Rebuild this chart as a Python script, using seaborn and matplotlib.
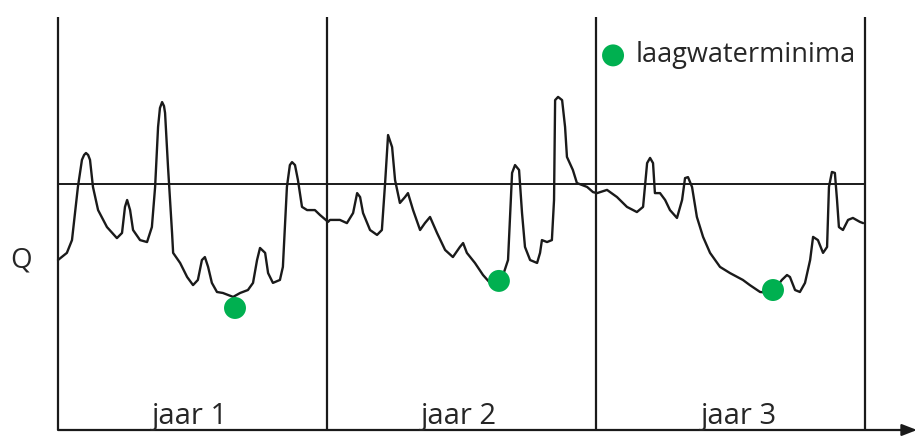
import numpy as np
import matplotlib.pyplot as plt
import seaborn as sns

# time in years, discharge as % of the mean (mean line = 100)
t = [0.000, 0.033, 0.052, 0.074, 0.089, 0.097, 0.104, 0.112, 0.119, 0.130,
     0.149, 0.182, 0.219, 0.238, 0.249, 0.257, 0.268, 0.279, 0.305, 0.331,
     0.349, 0.361, 0.372, 0.379, 0.387, 0.394, 0.398, 0.409, 0.424, 0.428,
     0.454, 0.480, 0.502, 0.520, 0.535, 0.546, 0.558, 0.572, 0.591, 0.613,
     0.651, 0.677, 0.706, 0.725, 0.740, 0.751, 0.770, 0.781, 0.799, 0.825,
     0.836, 0.851, 0.862, 0.870, 0.881, 0.892, 0.907, 0.926, 0.955, 0.974,
     1.004,
     1.011, 1.048, 1.074, 1.097, 1.112, 1.123, 1.134, 1.160, 1.186, 1.204,
     1.216, 1.227, 1.242, 1.253, 1.271, 1.290, 1.301, 1.320, 1.346, 1.364,
     1.383, 1.409, 1.439, 1.468, 1.494, 1.506, 1.520, 1.550, 1.580, 1.606,
     1.628, 1.651, 1.673, 1.688, 1.699, 1.714, 1.725, 1.736, 1.755, 1.781,
     1.792, 1.799, 1.818, 1.836, 1.844, 1.848, 1.859, 1.874, 1.885, 1.892,
     1.914, 1.929, 1.967, 1.989, 2.004,
     2.041, 2.078, 2.115, 2.152, 2.175, 2.190, 2.201, 2.212, 2.219, 2.238,
     2.257, 2.275, 2.301, 2.320, 2.331, 2.342, 2.357, 2.375, 2.398, 2.424,
     2.461, 2.498, 2.546, 2.572, 2.610, 2.654, 2.691, 2.710, 2.721, 2.740,
     2.758, 2.777, 2.796, 2.807, 2.825, 2.844, 2.859, 2.866, 2.877, 2.888,
     2.896, 2.903, 2.918, 2.937, 2.955, 2.981, 2.993]
q = [69.1, 72.0, 77.2, 98.8, 109.8, 111.8, 112.6, 111.8, 109.8, 98.8,
     89.4, 82.5, 78.0, 80.1, 90.7, 93.5, 89.4, 81.3, 77.2, 76.4,
     82.5, 98.8, 123.2, 130.9, 133.3, 131.7, 128.9, 106.9, 80.1, 72.0,
     67.9, 62.2, 58.9, 61.0, 69.1, 70.3, 66.3, 59.8, 56.1, 55.7,
     54.1, 55.7, 56.9, 59.8, 69.1, 74.0, 72.0, 63.8, 59.8, 61.0,
     66.3, 98.8, 107.7, 108.9, 107.7, 101.6, 90.7, 89.4, 89.4, 87.4,
     84.6,
     85.4, 85.4, 84.1, 88.2, 96.3, 94.7, 88.2, 81.3, 79.3, 81.3,
     100.4, 119.9, 115.0, 101.6, 92.3, 94.7, 96.3, 89.4, 81.3, 84.1,
     86.6, 80.1, 73.2, 70.3, 74.4, 76.0, 72.0, 67.9, 63.0, 59.8,
     58.9, 61.8, 69.1, 104.5, 107.7, 105.7, 88.2, 74.4, 69.1, 67.9,
     72.0, 77.2, 76.4, 77.2, 93.5, 134.1, 135.4, 134.1, 123.2, 111.0,
     105.7, 100.4, 98.8, 96.7, 96.3,
     97.6, 94.7, 90.7, 88.6, 90.7, 108.5, 110.6, 108.5, 96.3, 96.3,
     93.5, 89.4, 86.2, 93.5, 102.4, 102.8, 98.8, 86.6, 78.5, 72.0,
     66.3, 63.8, 61.0, 58.9, 56.1, 55.7, 61.0, 63.0, 62.2, 56.9,
     56.1, 59.8, 69.1, 78.5, 77.2, 72.0, 74.4, 98.8, 104.9, 104.5,
     93.5, 82.5, 81.3, 85.4, 86.2, 84.6, 84.1]

# low-flow minima
min_t = [0.658, 1.639, 2.658]
min_q = [49.6, 60.6, 56.9]

year_labels = ['jaar 1', 'jaar 2', 'jaar 3']
year_label_t = [0.49, 1.49, 2.53]
mean_q = 100
top_q = 168

sns.set_style('white')
plt.rcParams['font.family'] = ['Open Sans', 'DejaVu Sans']

green = '#00b050'
ink = '#1a1a1a'
text_c = '#262626'

fig = plt.figure(figsize=(9.17, 4.37), dpi=100)
ax = fig.add_axes([0, 0, 1, 1])
ax.set_xlim(-58 / 269, 859 / 269)
ax.set_ylim(-7 / 2.46, 430 / 2.46)
ax.axis('off')

# frame: year dividers, mean line, time axis with arrow
ax.vlines([0, 1, 2, 3], 0, top_q, color=ink, lw=1.6)
ax.hlines(mean_q, 0, 3, color=ink, lw=1.4)
ax.annotate('', xy=(859 / 269, 0), xytext=(0, 0),
            arrowprops=dict(arrowstyle='-|>,head_length=0.9,head_width=0.35',
                            color=ink, lw=1.6, shrinkA=0, shrinkB=0))

sns.lineplot(x=t, y=q, ax=ax, color=ink, lw=1.7, sort=False,
             estimator=None, solid_joinstyle='round')
sns.scatterplot(x=min_t, y=min_q, ax=ax, color=green, s=250,
                edgecolor='none', zorder=5, label='laagwaterminima')

ax.legend(loc='center left', bbox_to_anchor=(0.639, 0.873), frameon=False,
          fontsize=19.5, handletextpad=0.35, borderpad=0, markerscale=1.0,
          handlelength=1.0, labelcolor=text_c)

for lab, x in zip(year_labels, year_label_t):
    ax.text(x, 2.5, lab, ha='center', va='baseline', fontsize=21, color=text_c)
ax.text(-0.138, 65.9, 'Q', ha='center', va='baseline', fontsize=20, color=text_c)

fig.savefig('out.png', dpi=100)
